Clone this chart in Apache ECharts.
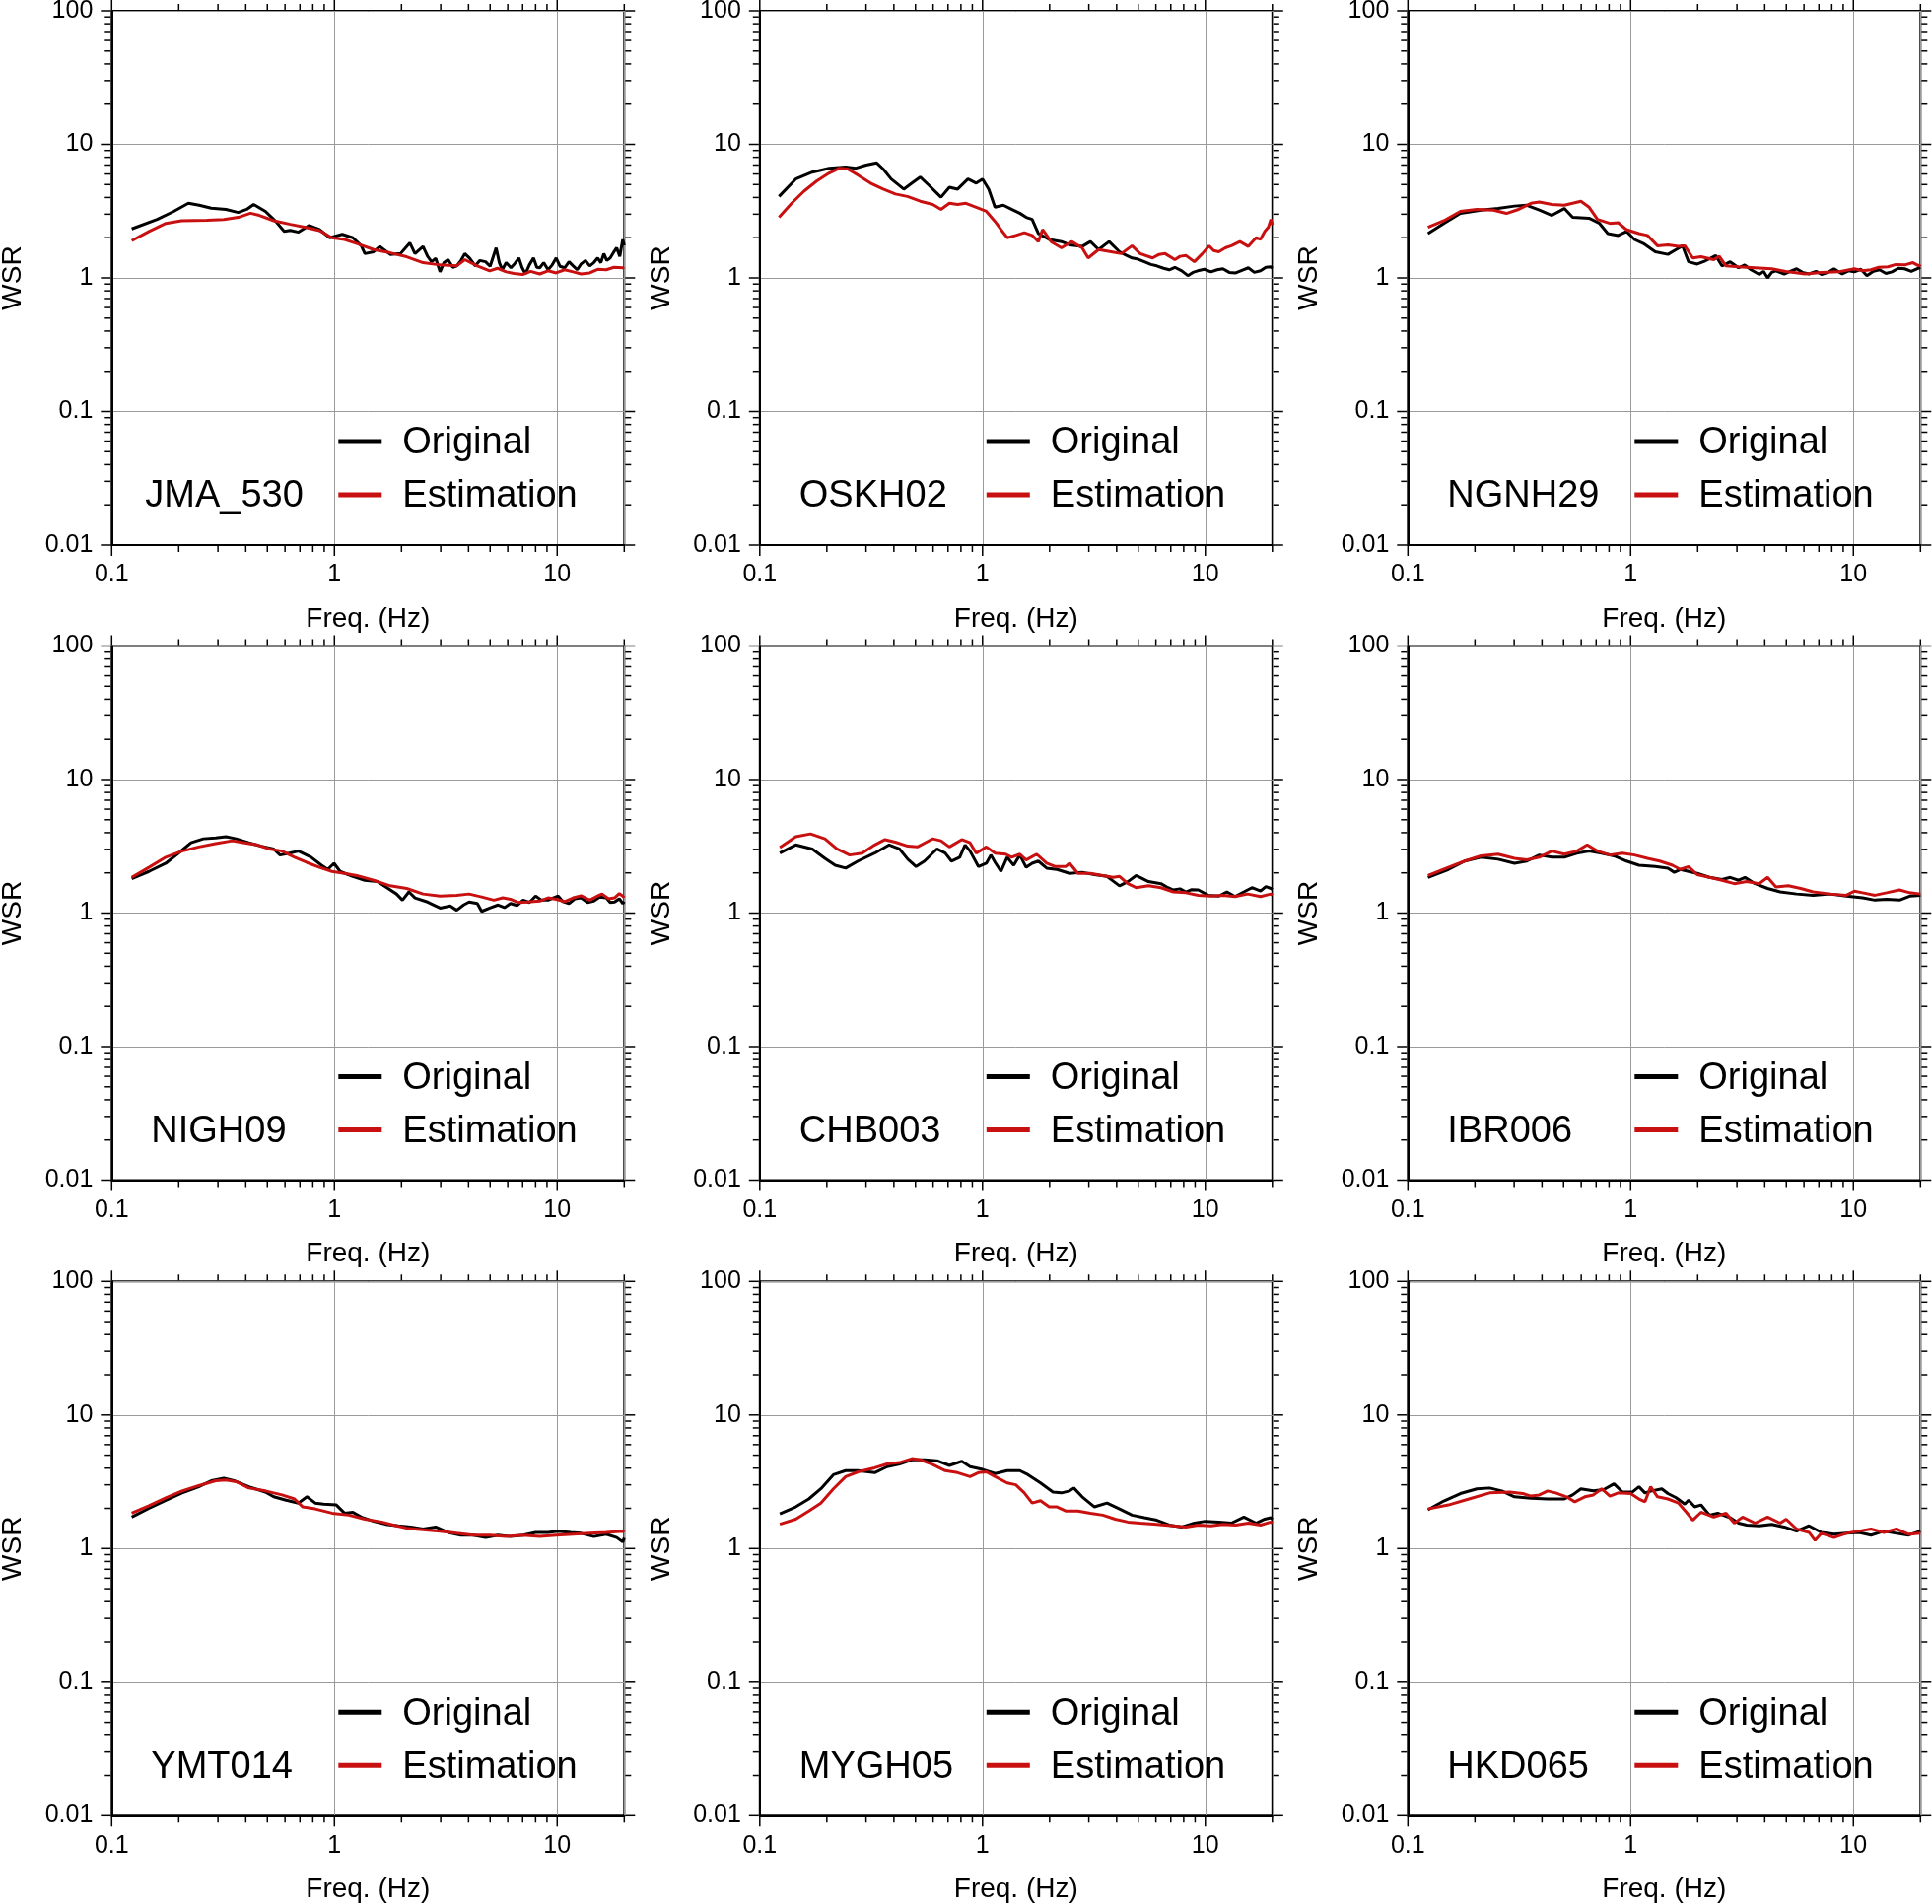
<!DOCTYPE html>
<html><head><meta charset="utf-8">
<script src="https://cdn.jsdelivr.net/npm/echarts@6/dist/echarts.min.js"></script>
<style>html,body{margin:0;padding:0;background:#fff}#c{width:1960px;height:1932px}</style>
</head><body><div id="c"></div>
<script>
// ---------- text / ticks ----------
const stations = ['JMA_530','OSKH02','NGNH29','NIGH09','CHB003','IBR006','YMT014','MYGH05','HKD065'];
const seriesNames = ['Original','Estimation'];
const xAxisTitle = 'Freq. (Hz)';
const yAxisTitle = 'WSR';
const xTickLabels = ['0.1','1','10'];
const yTickLabels = ['0.01','0.1','1','10','100'];
const xMajorTicks = [0.1,1,10];
const xMinorTicks = [0.2,0.3,0.4,0.5,0.6,0.7,0.8,0.9,2,3,4,5,6,7,8,9,20];
const yMajorTicks = [0.01,0.1,1,10,100];
const yMinorTicks = [0.02,0.03,0.04,0.05,0.06,0.07,0.08,0.09,0.2,0.3,0.4,0.5,0.6,0.7,0.8,0.9,2,3,4,5,6,7,8,9,20,30,40,50,60,70,80,90];

// ---------- data: [frequency Hz, WSR] ----------
const JMA_530_original = [[0.123,2.33],[0.16,2.74],[0.19,3.15],[0.221,3.62],[0.247,3.5],[0.28,3.33],[0.326,3.26],[0.37,3.09],[0.404,3.26],[0.434,3.55],[0.49,3.15],[0.545,2.65],[0.595,2.23],[0.634,2.27],[0.69,2.2],[0.77,2.47],[0.857,2.3],[0.954,2.0],[1.085,2.12],[1.21,2.0],[1.32,1.74],[1.37,1.52],[1.5,1.57],[1.6,1.72],[1.78,1.5],[1.98,1.52],[2.18,1.83],[2.3,1.52],[2.5,1.72],[2.62,1.45],[2.73,1.32],[2.85,1.4],[2.98,1.11],[3.1,1.3],[3.24,1.37],[3.4,1.2],[3.54,1.23],[3.7,1.35],[3.85,1.52],[4.05,1.4],[4.29,1.23],[4.5,1.35],[4.77,1.32],[5.0,1.22],[5.32,1.68],[5.5,1.3],[5.67,1.15],[5.9,1.3],[6.2,1.19],[6.45,1.28],[6.73,1.41],[6.95,1.2],[7.2,1.07],[7.5,1.25],[7.83,1.41],[8.1,1.2],[8.35,1.19],[8.7,1.3],[9.1,1.15],[9.5,1.25],[9.9,1.41],[10.3,1.22],[10.8,1.19],[11.3,1.32],[11.8,1.23],[12.3,1.15],[12.8,1.27],[13.4,1.35],[14,1.23],[14.6,1.3],[15.2,1.41],[15.7,1.3],[16.2,1.52],[16.7,1.35],[17.3,1.41],[17.9,1.55],[18.5,1.68],[19.1,1.45],[19.7,1.94],[20,1.75]];
const JMA_530_estimation = [[0.123,1.9],[0.147,2.23],[0.175,2.56],[0.206,2.68],[0.268,2.7],[0.319,2.74],[0.37,2.84],[0.42,3.05],[0.46,2.94],[0.534,2.68],[0.634,2.52],[0.753,2.38],[0.857,2.26],[0.975,2.0],[1.11,1.94],[1.26,1.81],[1.5,1.63],[1.78,1.54],[2.11,1.44],[2.5,1.3],[2.98,1.25],[3.54,1.23],[3.85,1.37],[4.38,1.23],[4.98,1.13],[5.4,1.18],[5.9,1.11],[6.4,1.08],[7.0,1.06],[7.6,1.12],[8.35,1.07],[9.1,1.13],[9.9,1.09],[10.8,1.15],[11.8,1.11],[12.8,1.07],[14,1.09],[15.2,1.16],[16.6,1.15],[18,1.2],[19.7,1.19],[20,1.2]];

const OSKH02_original = [[0.122,4.07],[0.145,5.5],[0.172,6.19],[0.205,6.63],[0.243,6.77],[0.27,6.63],[0.3,7.0],[0.335,7.26],[0.358,6.54],[0.389,5.5],[0.443,4.62],[0.482,5.13],[0.525,5.69],[0.573,4.96],[0.651,4.02],[0.71,4.78],[0.773,4.62],[0.86,5.5],[0.937,5.13],[1.0,5.5],[1.066,4.62],[1.137,3.38],[1.24,3.5],[1.35,3.26],[1.47,3.05],[1.57,2.84],[1.67,2.74],[1.78,2.15],[1.99,1.94],[2.26,1.87],[2.46,1.77],[2.8,1.72],[3.05,1.87],[3.32,1.63],[3.7,1.87],[4.12,1.57],[4.4,1.48],[4.69,1.41],[5.0,1.38],[5.33,1.32],[5.7,1.26],[6.06,1.23],[6.5,1.18],[6.89,1.15],[7.3,1.2],[7.84,1.13],[8.35,1.04],[8.8,1.1],[9.25,1.13],[9.9,1.16],[10.6,1.11],[11.3,1.15],[12.0,1.17],[12.8,1.1],[13.7,1.09],[14.6,1.14],[15.6,1.19],[16.6,1.1],[17.7,1.13],[18.7,1.2],[19.7,1.21],[20,1.18]];
const OSKH02_estimation = [[0.122,2.84],[0.139,3.62],[0.158,4.46],[0.18,5.31],[0.205,6.1],[0.228,6.63],[0.248,6.54],[0.276,5.89],[0.314,5.13],[0.358,4.62],[0.406,4.25],[0.46,4.07],[0.525,3.75],[0.598,3.55],[0.651,3.26],[0.71,3.62],[0.773,3.55],[0.842,3.62],[0.937,3.38],[1.04,3.15],[1.137,2.65],[1.21,2.3],[1.29,2.0],[1.41,2.08],[1.54,2.18],[1.67,2.08],[1.78,1.87],[1.86,2.3],[2.03,1.87],[2.26,1.68],[2.51,1.87],[2.8,1.68],[2.98,1.41],[3.32,1.63],[3.78,1.57],[4.2,1.52],[4.69,1.74],[5.1,1.52],[5.8,1.41],[6.2,1.5],[6.6,1.52],[7.3,1.37],[7.7,1.45],[8.2,1.47],[8.93,1.32],[9.7,1.52],[10.4,1.74],[10.9,1.6],[11.5,1.57],[12.3,1.68],[13.1,1.74],[14.3,1.87],[15.6,1.72],[16.9,2.0],[17.7,1.95],[18.5,2.23],[19.2,2.4],[19.7,2.74],[20,2.5]];

const NGNH29_original = [[0.123,2.15],[0.145,2.56],[0.172,3.04],[0.213,3.22],[0.254,3.31],[0.301,3.45],[0.342,3.5],[0.389,3.22],[0.443,2.94],[0.504,3.31],[0.549,2.84],[0.651,2.8],[0.725,2.56],[0.79,2.15],[0.879,2.08],[0.958,2.23],[1.04,1.94],[1.14,1.81],[1.29,1.57],[1.47,1.5],[1.6,1.63],[1.71,1.74],[1.82,1.32],[1.99,1.27],[2.16,1.34],[2.41,1.47],[2.57,1.23],[2.8,1.32],[3.05,1.19],[3.25,1.25],[3.47,1.15],[3.78,1.06],[3.95,1.12],[4.12,1.0],[4.3,1.1],[4.49,1.13],[4.89,1.07],[5.2,1.12],[5.56,1.17],[5.9,1.1],[6.32,1.07],[6.8,1.12],[7.19,1.06],[7.7,1.1],[8.18,1.17],[8.9,1.07],[9.5,1.13],[10.1,1.11],[10.8,1.16],[11.5,1.04],[12.3,1.12],[13.1,1.15],[14,1.08],[14.9,1.11],[15.9,1.18],[17.0,1.17],[18.2,1.12],[19.7,1.19],[20,1.2]];
const NGNH29_estimation = [[0.123,2.39],[0.145,2.68],[0.172,3.15],[0.204,3.26],[0.242,3.22],[0.277,3.04],[0.314,3.26],[0.357,3.62],[0.389,3.7],[0.443,3.55],[0.504,3.5],[0.549,3.62],[0.598,3.75],[0.651,3.38],[0.71,2.74],[0.807,2.56],[0.879,2.59],[0.958,2.3],[1.09,2.15],[1.19,2.08],[1.32,1.74],[1.47,1.77],[1.64,1.72],[1.75,1.74],[1.9,1.41],[2.07,1.44],[2.36,1.37],[2.5,1.45],[2.68,1.23],[3.05,1.21],[3.62,1.19],[4.3,1.17],[5.1,1.11],[6.06,1.07],[7.19,1.1],[8.54,1.11],[10.1,1.17],[11,1.13],[12.0,1.15],[13,1.2],[14.3,1.21],[15.5,1.26],[17.0,1.25],[18.5,1.3],[19.7,1.23],[20,1.26]];

const NIGH09_original = [[0.123,1.81],[0.147,2.05],[0.175,2.36],[0.2,2.82],[0.227,3.36],[0.258,3.6],[0.293,3.66],[0.326,3.73],[0.362,3.6],[0.413,3.36],[0.47,3.17],[0.534,3.02],[0.57,2.72],[0.634,2.82],[0.69,2.91],[0.786,2.62],[0.875,2.28],[0.933,2.12],[0.996,2.36],[1.06,2.05],[1.21,1.88],[1.37,1.76],[1.56,1.72],[1.74,1.53],[1.9,1.39],[2.02,1.25],[2.16,1.44],[2.3,1.3],[2.62,1.21],[2.98,1.09],[3.31,1.13],[3.54,1.05],[3.8,1.15],[4.02,1.21],[4.38,1.18],[4.58,1.03],[4.98,1.09],[5.43,1.15],[5.8,1.1],[6.17,1.18],[6.6,1.14],[7.03,1.25],[7.5,1.2],[8.0,1.34],[8.5,1.25],[9.1,1.25],[9.6,1.3],[10.1,1.34],[10.6,1.22],[11.3,1.18],[12,1.28],[12.8,1.3],[13.7,1.2],[14.6,1.23],[15.5,1.32],[16.6,1.3],[17.3,1.2],[18.1,1.21],[19,1.28],[19.7,1.18],[20,1.22]];
const NIGH09_estimation = [[0.123,1.85],[0.147,2.2],[0.175,2.62],[0.207,2.91],[0.246,3.13],[0.293,3.31],[0.348,3.48],[0.395,3.36],[0.45,3.24],[0.512,3.02],[0.582,2.91],[0.662,2.62],[0.753,2.39],[0.857,2.2],[0.975,2.05],[1.11,1.98],[1.26,1.91],[1.5,1.76],[1.78,1.6],[2.11,1.53],[2.5,1.39],[2.98,1.34],[3.54,1.36],[4.02,1.39],[4.58,1.32],[5.2,1.25],[5.7,1.3],[6.17,1.27],[6.7,1.2],[7.35,1.21],[8.35,1.23],[9.1,1.3],[9.9,1.27],[10.8,1.22],[11.8,1.3],[12.8,1.35],[14.0,1.25],[15,1.33],[15.9,1.39],[17,1.28],[18.1,1.3],[19,1.4],[19.7,1.34],[20,1.3]];

const CHB003_original = [[0.123,2.81],[0.145,3.24],[0.172,3.02],[0.196,2.57],[0.218,2.28],[0.243,2.17],[0.276,2.45],[0.328,2.81],[0.381,3.24],[0.424,3.02],[0.462,2.53],[0.503,2.23],[0.549,2.45],[0.624,3.02],[0.68,2.81],[0.725,2.45],[0.79,2.62],[0.835,3.24],[0.879,2.91],[0.958,2.23],[1.04,2.36],[1.09,2.72],[1.14,2.39],[1.21,2.05],[1.29,2.62],[1.38,2.28],[1.47,2.72],[1.57,2.2],[1.67,2.36],[1.78,2.45],[1.94,2.17],[2.16,2.12],[2.46,1.98],[2.8,2.02],[3.18,1.94],[3.62,1.88],[4.12,1.6],[4.49,1.72],[4.89,1.91],[5.1,1.85],[5.56,1.72],[6.32,1.66],[6.8,1.55],[7.19,1.49],[7.7,1.52],[8.18,1.44],[8.7,1.5],[9.3,1.49],[10.3,1.36],[11.5,1.34],[12.5,1.44],[13.6,1.33],[14.9,1.44],[16.2,1.55],[17.7,1.46],[18.7,1.58],[19.7,1.53],[20,1.5]];
const CHB003_estimation = [[0.123,3.09],[0.145,3.73],[0.169,3.92],[0.196,3.6],[0.222,3.02],[0.253,2.72],[0.288,2.81],[0.328,3.24],[0.365,3.55],[0.406,3.4],[0.462,3.17],[0.51,3.13],[0.56,3.4],[0.598,3.6],[0.651,3.48],[0.71,3.13],[0.807,3.55],[0.879,3.36],[0.937,2.81],[1.04,3.13],[1.14,2.81],[1.27,2.76],[1.35,2.62],[1.47,2.76],[1.57,2.5],[1.75,2.76],[1.94,2.36],[2.12,2.23],[2.36,2.23],[2.46,2.36],[2.68,1.98],[3.05,1.98],[3.47,1.91],[3.86,1.85],[4.12,1.88],[4.49,1.66],[4.89,1.55],[5.56,1.6],[6.32,1.55],[7.19,1.44],[8.18,1.42],[9.3,1.36],[10.6,1.34],[12.0,1.36],[13.6,1.33],[15.5,1.39],[17.7,1.33],[19.7,1.39],[20,1.36]];

const IBR006_original = [[0.123,1.85],[0.152,2.12],[0.18,2.45],[0.213,2.62],[0.254,2.53],[0.301,2.36],[0.342,2.45],[0.389,2.72],[0.443,2.62],[0.504,2.62],[0.573,2.81],[0.651,2.91],[0.74,2.81],[0.842,2.68],[0.958,2.45],[1.09,2.28],[1.29,2.23],[1.47,2.17],[1.57,2.02],[1.67,2.12],[1.82,2.05],[1.99,1.98],[2.26,1.85],[2.57,1.78],[2.8,1.85],[3.05,1.76],[3.26,1.85],[3.62,1.66],[4.12,1.53],[4.69,1.44],[5.56,1.39],[6.6,1.36],[7.84,1.39],[9.3,1.34],[11.0,1.3],[12.5,1.25],[14.1,1.27],[16.1,1.25],[17.9,1.34],[20,1.36]];
const IBR006_estimation = [[0.123,1.91],[0.152,2.2],[0.18,2.45],[0.213,2.68],[0.254,2.76],[0.301,2.57],[0.342,2.5],[0.389,2.62],[0.443,2.91],[0.504,2.76],[0.573,2.91],[0.638,3.24],[0.71,2.91],[0.807,2.72],[0.918,2.81],[1.04,2.72],[1.19,2.57],[1.35,2.45],[1.54,2.28],[1.67,2.12],[1.82,2.23],[1.99,1.94],[2.26,1.85],[2.57,1.76],[2.92,1.66],[3.32,1.72],[3.78,1.66],[4.12,1.85],[4.49,1.57],[5.1,1.6],[5.8,1.53],[6.6,1.44],[7.84,1.39],[9.3,1.36],[10.1,1.46],[11.0,1.42],[12.5,1.36],[14.1,1.42],[16.1,1.49],[17.9,1.42],[20,1.39]];

const YMT014_original = [[0.123,1.72],[0.147,2.0],[0.175,2.3],[0.207,2.61],[0.246,2.9],[0.28,3.22],[0.319,3.36],[0.354,3.22],[0.413,2.9],[0.49,2.65],[0.534,2.44],[0.607,2.3],[0.69,2.19],[0.753,2.44],[0.82,2.19],[0.894,2.15],[1.02,2.12],[1.11,1.84],[1.21,1.87],[1.32,1.72],[1.5,1.6],[1.7,1.52],[1.94,1.48],[2.2,1.45],[2.5,1.4],[2.85,1.45],[3.24,1.32],[3.69,1.26],[4.2,1.26],[4.77,1.21],[5.43,1.26],[6.17,1.23],[7.03,1.26],[8.0,1.32],[9.1,1.32],[10.1,1.35],[11.5,1.32],[12.8,1.3],[14.6,1.23],[16.6,1.28],[18.5,1.21],[19.7,1.12],[20,1.2]];
const YMT014_estimation = [[0.123,1.84],[0.147,2.09],[0.175,2.4],[0.207,2.7],[0.246,2.96],[0.293,3.22],[0.326,3.26],[0.362,3.17],[0.413,2.84],[0.49,2.7],[0.582,2.52],[0.662,2.35],[0.721,2.05],[0.82,1.98],[0.975,1.84],[1.16,1.78],[1.37,1.66],[1.63,1.58],[1.84,1.5],[2.11,1.42],[2.5,1.38],[2.98,1.35],[3.54,1.3],[4.2,1.26],[4.98,1.26],[5.9,1.23],[7.03,1.26],[8.35,1.23],[9.9,1.26],[11.8,1.28],[14.0,1.3],[16.6,1.32],[19.7,1.35],[20,1.32]];

const MYGH05_original = [[0.123,1.82],[0.145,2.05],[0.166,2.35],[0.188,2.8],[0.214,3.57],[0.243,3.83],[0.276,3.83],[0.328,3.7],[0.373,4.1],[0.424,4.3],[0.482,4.62],[0.549,4.62],[0.624,4.55],[0.71,4.19],[0.807,4.5],[0.879,4.1],[1.0,3.91],[1.14,3.64],[1.29,3.83],[1.47,3.83],[1.6,3.57],[1.82,3.1],[2.07,2.65],[2.26,2.61],[2.46,2.7],[2.57,2.84],[2.8,2.44],[3.18,2.05],[3.62,2.19],[4.12,1.98],[4.69,1.78],[5.33,1.7],[6.06,1.63],[6.89,1.5],[7.84,1.45],[8.93,1.55],[10.0,1.6],[11.5,1.58],[13.1,1.55],[14.9,1.72],[16.9,1.55],[18.5,1.66],[19.7,1.7],[20,1.65]];
const MYGH05_estimation = [[0.123,1.52],[0.145,1.66],[0.166,1.91],[0.188,2.19],[0.214,2.8],[0.243,3.45],[0.276,3.75],[0.328,4.02],[0.373,4.3],[0.424,4.4],[0.482,4.71],[0.525,4.62],[0.598,4.25],[0.68,3.83],[0.773,3.7],[0.879,3.45],[0.958,3.7],[1.04,3.75],[1.14,3.45],[1.29,3.1],[1.41,3.0],[1.54,2.61],[1.67,2.19],[1.82,2.28],[1.99,2.05],[2.16,2.05],[2.36,1.91],[2.68,1.91],[3.05,1.84],[3.47,1.78],[3.94,1.66],[4.49,1.58],[5.1,1.55],[6.06,1.52],[7.19,1.48],[8.18,1.45],[9.3,1.5],[10.6,1.48],[12.0,1.52],[13.7,1.5],[15.6,1.55],[17.7,1.5],[19.7,1.58],[20,1.55]];

const HKD065_original = [[0.123,1.95],[0.145,2.27],[0.172,2.58],[0.204,2.8],[0.233,2.84],[0.264,2.7],[0.301,2.44],[0.357,2.38],[0.424,2.35],[0.504,2.35],[0.549,2.52],[0.598,2.8],[0.68,2.7],[0.757,2.76],[0.842,3.05],[0.918,2.65],[1.02,2.65],[1.09,2.9],[1.16,2.61],[1.24,2.7],[1.38,2.8],[1.47,2.58],[1.6,2.4],[1.75,2.15],[1.82,2.3],[1.94,2.05],[2.07,2.12],[2.26,1.78],[2.46,1.84],[2.8,1.7],[3.05,1.55],[3.32,1.5],[3.78,1.48],[4.3,1.52],[4.89,1.45],[5.56,1.35],[6.32,1.48],[7.19,1.32],[8.18,1.28],[9.3,1.3],[10.6,1.32],[12.0,1.26],[13.7,1.35],[15.6,1.3],[17.7,1.26],[20,1.35]];
const HKD065_estimation = [[0.123,1.98],[0.152,2.12],[0.188,2.35],[0.233,2.61],[0.287,2.65],[0.328,2.58],[0.357,2.47],[0.389,2.52],[0.424,2.7],[0.461,2.61],[0.515,2.44],[0.561,2.24],[0.623,2.44],[0.68,2.52],[0.741,2.8],[0.807,2.47],[0.879,2.61],[1.0,2.58],[1.09,2.35],[1.16,2.24],[1.23,2.9],[1.32,2.44],[1.47,2.35],[1.64,2.19],[1.78,1.87],[1.9,1.63],[2.07,1.87],[2.36,1.72],[2.68,1.84],[2.92,1.55],[3.18,1.72],[3.62,1.55],[4.12,1.72],[4.69,1.55],[4.99,1.66],[5.56,1.4],[6.32,1.32],[6.73,1.15],[7.19,1.3],[8.18,1.21],[9.3,1.3],[10.6,1.35],[12.0,1.4],[13.7,1.32],[15.6,1.4],[17.7,1.28],[20,1.3]];

const originals = [JMA_530_original, OSKH02_original, NGNH29_original, NIGH09_original, CHB003_original, IBR006_original, YMT014_original, MYGH05_original, HKD065_original];
const estimations = [JMA_530_estimation, OSKH02_estimation, NGNH29_estimation, NIGH09_estimation, CHB003_estimation, IBR006_estimation, YMT014_estimation, MYGH05_estimation, HKD065_estimation];

// ---------- layout & style ----------
const FONT = 'Liberation Sans, Arial, Helvetica, sans-serif';
const colLeft = [113.3, 770.8, 1428.3];
const rowTop = [11, 655.5, 1300.3];
const PW = 520, PH = 542;
const BLACK = '#000000', RED = '#c81010';
const labelDx = [34, 40, 40, 40, 40, 40, 40, 40, 40];

const chart = echarts.init(document.getElementById('c'), null, {renderer: 'canvas'});

const grids = [], xAxes = [], yAxes = [], series = [], graphics = [];

function fmt(list) {
  return function (v) {
    const s = String(+(+v).toPrecision(6));
    return list.indexOf(s) >= 0 ? s : '';
  };
}

for (let i = 0; i < 9; i++) {
  const c = i % 3, r = Math.floor(i / 3);
  const gx = colLeft[c], gy = rowTop[r];
  grids.push({left: gx, top: gy, width: PW, height: PH, show: true, borderColor: '#000', borderWidth: 2,
    backgroundColor: 'transparent', containLabel: false, outerBoundsMode: 'none'});
  xAxes.push({
    type: 'log', logBase: 10, gridIndex: i, min: 0.1, max: 20, position: 'bottom',
    name: xAxisTitle, nameLocation: 'middle', nameGap: 61,
    nameTextStyle: {fontSize: 28, fontFamily: FONT, color: '#000'},
    axisLine: {show: true, onZero: false, lineStyle: {color: '#000', width: 2}},
    axisTick: {show: false},
    minorTick: {show: false},
    axisLabel: {show: true, fontSize: 25, fontFamily: FONT, color: '#000', margin: 18,
      showMinLabel: true, showMaxLabel: true, formatter: fmt(xTickLabels)},
    splitLine: {show: true, lineStyle: {color: '#9a9a9a', width: 1}}
  });
  yAxes.push({
    type: 'log', logBase: 10, gridIndex: i, min: 0.01, max: 100, position: 'left',
    name: yAxisTitle, nameLocation: 'middle', nameGap: 86,
    nameTextStyle: {fontSize: 28, fontFamily: FONT, color: '#000'},
    axisLine: {show: true, onZero: false, lineStyle: {color: '#000', width: 2}},
    axisTick: {show: false},
    minorTick: {show: false},
    axisLabel: {show: true, fontSize: 25, fontFamily: FONT, color: '#000', margin: 19,
      showMinLabel: true, showMaxLabel: true, formatter: fmt(yTickLabels)},
    splitLine: {show: true, lineStyle: {color: '#9a9a9a', width: 1}}
  });

  // frame ticks on all four sides (outward)
  const tickData = [];
  xMinorTicks.forEach(f => {
    tickData.push({value: [f, 0.01], symbolSize: [1.5, 6], symbolOffset: [0, 4]});
    tickData.push({value: [f, 100], symbolSize: [1.5, 6], symbolOffset: [0, -4]});
  });
  xMajorTicks.forEach(f => {
    tickData.push({value: [f, 0.01], symbolSize: [1.5, 10], symbolOffset: [0, 6]});
    tickData.push({value: [f, 100], symbolSize: [1.5, 10], symbolOffset: [0, -6]});
  });
  yMinorTicks.forEach(v => {
    tickData.push({value: [0.1, v], symbolSize: [6, 1.5], symbolOffset: [-4, 0]});
    tickData.push({value: [20, v], symbolSize: [6, 1.5], symbolOffset: [4, 0]});
  });
  yMajorTicks.forEach(v => {
    tickData.push({value: [0.1, v], symbolSize: [10, 1.5], symbolOffset: [-6, 0]});
    tickData.push({value: [20, v], symbolSize: [10, 1.5], symbolOffset: [6, 0]});
  });
  series.push({
    type: 'scatter', name: 'ticks', xAxisIndex: i, yAxisIndex: i, symbol: 'rect',
    clip: false, silent: true, z: 6, animation: false,
    itemStyle: {color: '#000', opacity: 1}, emphasis: {disabled: true},
    data: tickData
  });

  series.push({
    type: 'line', name: seriesNames[0], xAxisIndex: i, yAxisIndex: i,
    data: originals[i], showSymbol: false, symbol: 'none', animation: false, z: 3,
    lineStyle: {color: BLACK, width: 3}, itemStyle: {color: BLACK}
  });
  series.push({
    type: 'line', name: seriesNames[1], xAxisIndex: i, yAxisIndex: i,
    data: estimations[i], showSymbol: false, symbol: 'none', animation: false, z: 4,
    lineStyle: {color: RED, width: 3}, itemStyle: {color: RED}
  });

  // legend + station name
  const y1 = gy + 437, y2 = gy + 491;
  graphics.push({type: 'line', shape: {x1: gx + 230, y1: y1, x2: gx + 274, y2: y1}, style: {stroke: BLACK, lineWidth: 5}, z: 10});
  graphics.push({type: 'line', shape: {x1: gx + 230, y1: y2, x2: gx + 274, y2: y2}, style: {stroke: RED, lineWidth: 5}, z: 10});
  graphics.push({type: 'text', x: gx + 295, y: y1 + 2, z: 10, style: {text: seriesNames[0], fontSize: 38, fontFamily: FONT, fill: '#000', align: 'left', verticalAlign: 'middle'}});
  graphics.push({type: 'text', x: gx + 295, y: y2 + 2, z: 10, style: {text: seriesNames[1], fontSize: 38, fontFamily: FONT, fill: '#000', align: 'left', verticalAlign: 'middle'}});
  graphics.push({type: 'text', x: gx + labelDx[i], y: y2 + 2, z: 10, style: {text: stations[i], fontSize: 38, fontFamily: FONT, fill: '#000', align: 'left', verticalAlign: 'middle'}});
}

chart.setOption({
  animation: false,
  backgroundColor: '#ffffff',
  textStyle: {fontFamily: FONT},
  grid: grids,
  xAxis: xAxes,
  yAxis: yAxes,
  series: series,
  graphic: {elements: graphics}
});
</script>
</body></html>
